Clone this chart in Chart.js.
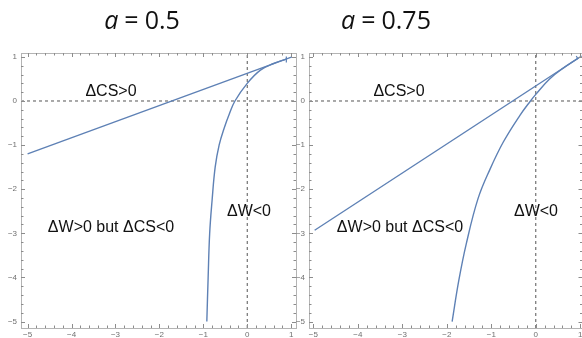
<!DOCTYPE html>
<html>
<head>
<meta charset="utf-8">
<script src="https://cdn.jsdelivr.net/npm/chart.js@4.4.1/dist/chart.umd.min.js"></script>
<style>
  body { margin: 0; width: 582px; height: 338px; overflow: hidden; background: #fff; position: relative; }
  canvas { position: absolute; top: 0; }
  .title { position: absolute; top: 2px; font-family: "Open Sans", sans-serif; font-size: 25px; color: #111; transform: translateX(-50%); white-space: nowrap; }
  .title .eq { margin: 0 6px; }
  .region { position: absolute; font-family: "Liberation Sans", Arial, sans-serif; font-size: 16px; line-height: 16px; color: #111; transform: translate(-50%, -50%); white-space: nowrap; }
</style>
</head>
<body>
<canvas id="chart-a05" width="300" height="338" style="left:0"></canvas>
<canvas id="chart-a075" width="294" height="338" style="left:290px"></canvas>

<div class="title" style="left:142px"><i>a</i><span class="eq">=</span>0.5</div>
<div class="title" style="left:386px"><i>a</i><span class="eq">=</span>0.75</div>

<div class="region" style="left:111px;top:91px">ΔCS&gt;0</div>
<div class="region" style="left:111px;top:227px">ΔW&gt;0 but ΔCS&lt;0</div>
<div class="region" style="left:249px;top:211px">ΔW&lt;0</div>
<div class="region" style="left:399px;top:91px">ΔCS&gt;0</div>
<div class="region" style="left:400px;top:227px">ΔW&gt;0 but ΔCS&lt;0</div>
<div class="region" style="left:536px;top:211px">ΔW&lt;0</div>

<script>
// ---------- DATA ----------
// a = 0.5
const lineX_a05 = [-5, 1.02];
const lineY_a05 = [-1.2, 1.0];
const curveX_a05 = [-0.92, -0.89, -0.855, -0.8, -0.73, -0.64, -0.52, -0.41, -0.28, 0, 0.3, 0.6, 0.89];
const curveY_a05 = [-5.0, -4.0, -3.0, -2.25, -1.5, -1.0, -0.6, -0.3, 0, 0.4, 0.7, 0.85, 0.95];
const endX_a05 = [0.89, 0.89];
const endY_a05 = [0.87, 1.01];

// a = 0.75
const lineX_a075 = [-4.97, 1.03];
const lineY_a075 = [-2.93, 1.02];
const curveX_a075 = [-1.88, -1.73, -1.56, -1.3, -1.03, -0.73, -0.36, -0.12, 0, 0.31, 0.61, 0.95];
const curveY_a075 = [-5.0, -4.07, -3.23, -2.22, -1.55, -0.93, -0.33, 0, 0.15, 0.5, 0.74, 0.97];
const endX_a075 = [0.91, 0.95];
const endY_a075 = [1.02, 0.95];

// tick labels (same on both axes of both panels)
const xTicks = [-5, -4, -3, -2, -1, 0, 1];
const yTicks = [-5, -4, -3, -2, -1, 0, 1];

// ---------- STYLE ----------
const curveColor = "rgb(94, 129, 181)";
const frameColor = "#b4b4b4";
const tickColor = "#8c8c8c";
const labelColor = "#707070";
const axisColor = "#555";

function toPoints(xs, ys) {
  return xs.map((x, i) => ({ x: x, y: ys[i] }));
}

// Mathematica-like frame with inward ticks on all four sides
const framePlugin = {
  id: "mframe",
  afterDraw(chart) {
    const { ctx, chartArea: a, scales } = chart;
    const xs = scales.x, ys = scales.y;
    ctx.save();
    ctx.lineWidth = 1;
    ctx.strokeStyle = frameColor;
    ctx.strokeRect(Math.round(a.left) + 0.5, Math.round(a.top) + 0.5, Math.round(a.right - a.left), Math.round(a.bottom - a.top));

    ctx.strokeStyle = tickColor;
    ctx.beginPath();
    for (let v = Math.ceil(xs.min * 5) / 5; v <= xs.max + 1e-9; v += 0.2) {
      const major = Math.abs(v - Math.round(v)) < 1e-6;
      const len = major ? 4 : 2.5;
      const px = Math.round(xs.getPixelForValue(v)) + 0.5;
      ctx.moveTo(px, a.bottom); ctx.lineTo(px, a.bottom - len);
      ctx.moveTo(px, a.top); ctx.lineTo(px, a.top + len);
    }
    for (let v = Math.ceil(ys.min * 5) / 5; v <= ys.max + 1e-9; v += 0.2) {
      const major = Math.abs(v - Math.round(v)) < 1e-6;
      const len = major ? 4 : 2.5;
      const py = Math.round(ys.getPixelForValue(v)) + 0.5;
      ctx.moveTo(a.left, py); ctx.lineTo(a.left + len, py);
      ctx.moveTo(a.right, py); ctx.lineTo(a.right - len, py);
    }
    ctx.stroke();

    ctx.fillStyle = labelColor;
    ctx.font = '8px "Liberation Sans", Arial, sans-serif';
    ctx.textAlign = "center";
    ctx.textBaseline = "top";
    xTicks.forEach(v => {
      ctx.fillText(String(v).replace("-", "\u2212"), xs.getPixelForValue(v), a.bottom + 3);
    });
    ctx.textAlign = "right";
    ctx.textBaseline = "middle";
    yTicks.forEach(v => {
      ctx.fillText(String(v).replace("-", "\u2212"), a.left - 4, ys.getPixelForValue(v));
    });
    ctx.restore();
  },
};

function makeChart(id, cfg) {
  return new Chart(document.getElementById(id), {
    type: "scatter",
    data: {
      datasets: [
        { data: toPoints(cfg.lineX, cfg.lineY), showLine: true, borderColor: curveColor, borderWidth: 1.4, order: 0 },
        { data: toPoints(cfg.curveX, cfg.curveY), showLine: true, borderColor: curveColor, borderWidth: 1.4, tension: 0.4, order: 0 },
        { data: toPoints(cfg.endX, cfg.endY), showLine: true, borderColor: curveColor, borderWidth: 1.2, order: 0 },
        // dashed axes through the origin
        { data: [{ x: 0, y: cfg.yMin }, { x: 0, y: cfg.yMax }], showLine: true, borderColor: axisColor, borderWidth: 1, borderDash: [3, 3], order: 2 },
        { data: [{ x: cfg.xMin, y: 0 }, { x: cfg.xMax, y: 0 }], showLine: true, borderColor: axisColor, borderWidth: 1, borderDash: [3, 3], order: 2 },
      ],
    },
    options: {
      responsive: false,
      animation: false,
      events: [],
      elements: { point: { radius: 0 } },
      layout: { padding: cfg.padding },
      plugins: { legend: { display: false }, tooltip: { enabled: false } },
      scales: {
        x: { type: "linear", min: cfg.xMin, max: cfg.xMax, display: false },
        y: { type: "linear", min: cfg.yMin, max: cfg.yMax, display: false },
      },
    },
    plugins: [framePlugin],
  });
}

// Left panel, a = 0.5
const chartA05 = makeChart("chart-a05", {
  lineX: lineX_a05, lineY: lineY_a05,
  curveX: curveX_a05, curveY: curveY_a05,
  endX: endX_a05, endY: endY_a05,
  xMin: -5.15, xMax: 1.11, yMin: -5.147, yMax: 1.088,
  padding: { left: 21, top: 53, right: 4, bottom: 10 },
});

// Right panel, a = 0.75
const chartA075 = makeChart("chart-a075", {
  lineX: lineX_a075, lineY: lineY_a075,
  curveX: curveX_a075, curveY: curveY_a075,
  endX: endX_a075, endY: endY_a075,
  xMin: -5.097, xMax: 1.05, yMin: -5.147, yMax: 1.088,
  padding: { left: 19, top: 53, right: 1.5, bottom: 10 },
});
</script>
</body>
</html>
